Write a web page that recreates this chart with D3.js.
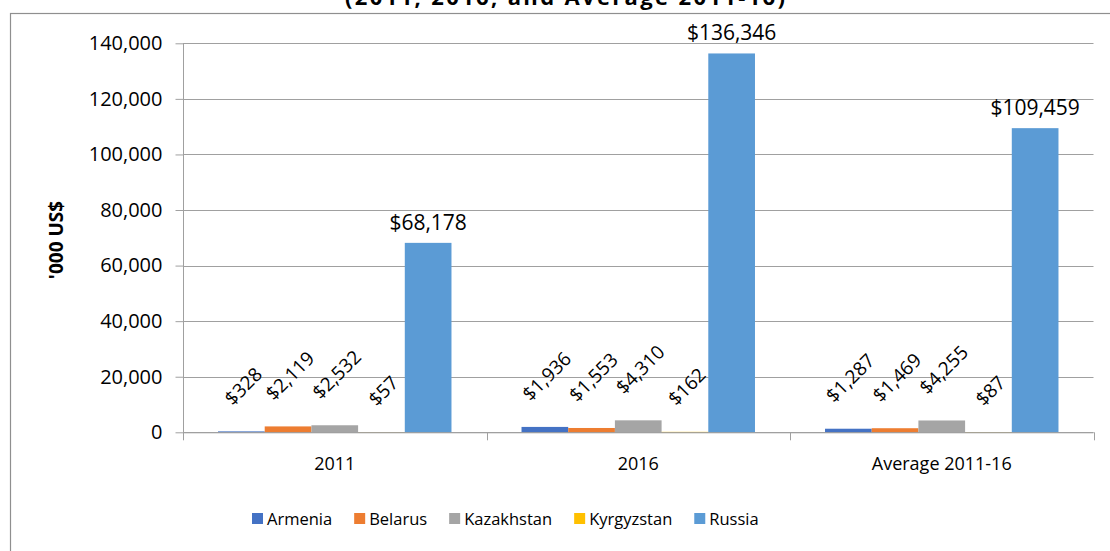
<!DOCTYPE html>
<html>
<head>
<meta charset="utf-8">
<script src="https://cdn.jsdelivr.net/npm/d3@7"></script>
<style>
  html, body { margin: 0; padding: 0; background: #fff; }
  svg { display: block; font-family: "Open Sans", sans-serif; }
</style>
</head>
<body>
<svg id="chart" width="1110" height="551"></svg>
<script>
const categories = ["2011", "2016", "Average 2011-16"];
const countries = ["Armenia", "Belarus", "Kazakhstan", "Kyrgyzstan", "Russia"];
const armenia = [328, 1936, 1287];
const belarus = [2119, 1553, 1469];
const kazakhstan = [2532, 4310, 4255];
const kyrgyzstan = [57, 162, 87];
const russia = [68178, 136346, 109459];
const yTicks = [0, 20000, 40000, 60000, 80000, 100000, 120000, 140000];
const colors = ["#4472C4", "#ED7D31", "#A5A5A5", "#FFC000", "#5B9BD5"];
const titleText = "(2011, 2016, and Average 2011-16)";
const yTitle = "'000 US$";

const seriesValues = [armenia, belarus, kazakhstan, kyrgyzstan, russia];

const svg = d3.select("#chart");
const gridColor = "#a0a0a0";

// outer chart frame (right and bottom edges fall outside the picture)
svg.append("rect")
  .attr("x", 10.5).attr("y", 13.5)
  .attr("width", 1120).attr("height", 560)
  .attr("fill", "none").attr("stroke", "#8f8f8f").attr("stroke-width", 1.2);

// title, cut off by the top edge as in the source image
svg.append("text")
  .attr("x", 565).attr("y", 5)
  .attr("text-anchor", "middle")
  .attr("font-weight", "bold").attr("font-size", 22)
  .attr("textLength", 440).attr("lengthAdjust", "spacing")
  .text(titleText);

const plotLeft = 183, plotRight = 1093.5, plotTop = 43.3, plotBottom = 432.3;

const y = d3.scaleLinear().domain([0, 140000]).range([plotBottom, plotTop]);
const x0 = d3.scaleBand().domain(categories).range([plotLeft, plotRight]);
const x1 = d3.scaleBand().domain(countries).range([0, x0.bandwidth()])
  .paddingInner(0).paddingOuter(0.75);

// gridlines
svg.append("g")
  .selectAll("line")
  .data(yTicks)
  .join("line")
  .attr("x1", plotLeft).attr("x2", plotRight)
  .attr("y1", (d) => Math.round(y(d)) + 0.5).attr("y2", (d) => Math.round(y(d)) + 0.5)
  .attr("stroke", gridColor);

// y axis
const yAxis = svg.append("g")
  .attr("transform", `translate(${plotLeft + 0.5},0)`)
  .call(d3.axisLeft(y).tickValues(yTicks).tickSize(8).tickPadding(13).tickFormat(d3.format(",")));
yAxis.select(".domain").attr("stroke", gridColor).attr("d", `M0,${plotTop}V${plotBottom}`);
yAxis.selectAll(".tick line").attr("stroke", gridColor);
yAxis.selectAll(".tick text").attr("font-size", 20).attr("fill", "#000")
  .attr("font-family", "Open Sans, sans-serif");

svg.append("text")
  .attr("transform", "translate(63,240) rotate(-90)")
  .attr("text-anchor", "middle")
  .attr("font-weight", "bold").attr("font-size", 19)
  .text(yTitle);

// bars
const groups = svg.append("g")
  .selectAll("g")
  .data(categories)
  .join("g")
  .attr("transform", (d) => `translate(${x0(d)},0)`);

groups.selectAll("rect")
  .data((cat, i) => countries.map((c, s) => ({ country: c, s, value: seriesValues[s][i] })))
  .join("rect")
  .attr("x", (d) => x1(d.country))
  .attr("width", x1.bandwidth())
  .attr("y", (d) => y(d.value))
  .attr("height", (d) => y(0) - y(d.value))
  .attr("fill", (d) => colors[d.s]);

// x axis
const xAxisG = svg.append("g");
xAxisG.append("line")
  .attr("x1", plotLeft).attr("x2", plotRight)
  .attr("y1", plotBottom + 0.5).attr("y2", plotBottom + 0.5)
  .attr("stroke", gridColor);
const bounds = categories.map((c) => x0(c)).concat([x0(categories[categories.length - 1]) + x0.bandwidth()]);
xAxisG.selectAll(".xt")
  .data(bounds)
  .join("line")
  .attr("x1", (d) => Math.round(d) + 0.5).attr("x2", (d) => Math.round(d) + 0.5)
  .attr("y1", plotBottom).attr("y2", plotBottom + 8)
  .attr("stroke", gridColor);
xAxisG.selectAll(".xl")
  .data(categories)
  .join("text")
  .attr("x", (d) => x0(d) + x0.bandwidth() / 2)
  .attr("y", 470)
  .attr("text-anchor", "middle")
  .attr("font-size", 18)
  .text((d) => d);

// data labels
const fmt = d3.format(",");
groups.each(function (cat, i) {
  const g = d3.select(this);
  countries.forEach((c, s) => {
    const v = seriesValues[s][i];
    const cx = x1(c) + x1.bandwidth() / 2;
    const barTop = y(v);
    if (c === "Russia") {
      g.append("text")
        .attr("x", cx).attr("y", barTop - 13)
        .attr("text-anchor", "middle")
        .attr("font-size", 21)
        .text("$" + fmt(v));
    } else {
      const t = g.append("text")
        .attr("text-anchor", "middle")
        .attr("dy", "0.35em")
        .attr("font-size", 19)
        .text("$" + fmt(v));
      const len = t.node().getComputedTextLength();
      const box = (len + 19 * 0.85) * Math.SQRT1_2;
      t.attr("transform", `translate(${cx + 2},${barTop - 24 - box / 2}) rotate(-45)`);
    }
  });
});

// legend
const legend = svg.append("g").attr("transform", "translate(252,0)");
let lx = 0;
countries.forEach((c, s) => {
  legend.append("rect")
    .attr("x", lx).attr("y", 513)
    .attr("width", 11).attr("height", 11)
    .attr("fill", colors[s]);
  const t = legend.append("text")
    .attr("x", lx + 15).attr("y", 519)
    .attr("dy", "0.35em")
    .attr("font-size", 16.5)
    .text(c);
  lx += 15 + t.node().getComputedTextLength() + 22;
});
</script>
</body>
</html>
